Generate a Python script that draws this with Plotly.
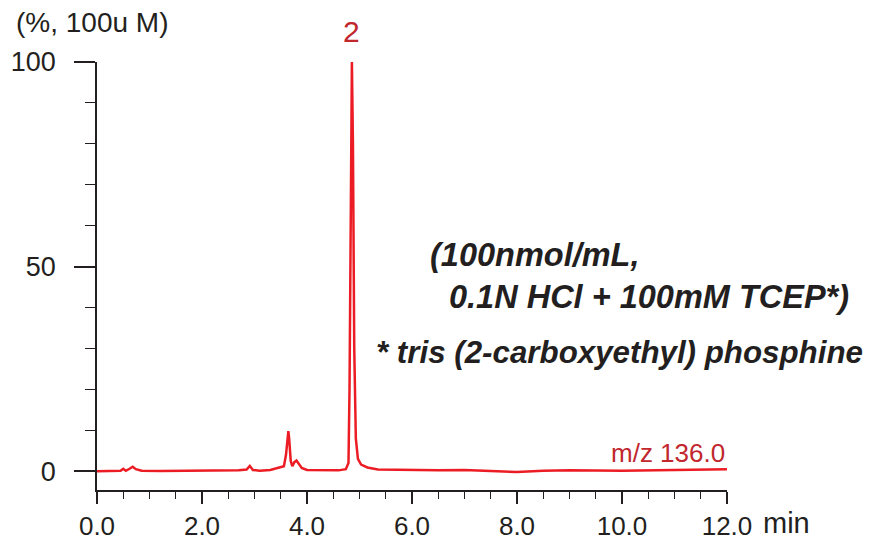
import plotly.graph_objects as go

# Retention time (min) and relative intensity (%)
time_min = [0.0, 0.3, 0.45, 0.5, 0.55, 0.62, 0.68, 0.74, 0.85, 1.2, 1.6, 2.0, 2.4, 2.7,
            2.85, 2.91, 2.97, 3.1, 3.3, 3.45, 3.56, 3.6, 3.63, 3.645, 3.66, 3.69, 3.72,
            3.76, 3.8, 3.84, 3.9, 4.0, 4.3, 4.6, 4.74, 4.79, 4.81, 4.835, 4.855, 4.875,
            4.9, 4.93, 4.97, 5.03, 5.15, 5.35, 5.8, 6.5, 7.0, 7.5, 8.0, 8.5, 9.0, 10.0,
            11.0, 12.0]
intensity = [0.0, 0.05, 0.1, 0.6, 0.1, 0.6, 1.1, 0.5, 0.1, 0.05, 0.1, 0.0, 0.1, 0.2,
             0.4, 1.3, 0.3, 0.1, 0.3, 0.8, 1.2, 4.0, 9.0, 9.8, 8.0, 2.5, 1.2,
             2.2, 2.6, 1.8, 0.8, 0.3, 0.2, 0.2, 0.5, 2.0, 20.0, 80.0, 100.0, 80.0,
             30.0, 8.0, 3.0, 1.6, 0.9, 0.4, 0.3, 0.2, 0.3, 0.1, -0.2, 0.1, 0.2, 0.1,
             0.3, 0.5]

x_ticks = [0, 2, 4, 6, 8, 10, 12]
x_tick_labels = ["0.0", "2.0", "4.0", "6.0", "8.0", "10.0", "12.0"]
y_ticks = [0, 50, 100]
y_tick_labels = ["0", "50", "100"]

peak_label = "2"
peak_time = 4.855
trace_label = "m/z 136.0"
y_unit = "(%, 100u M)"
x_unit = "min"
note_lines = ["(100nmol/mL,", "0.1N HCl + 100mM TCEP*)", "* tris (2-carboxyethyl) phosphine"]

RED = "#ec1c24"
DARKRED = "#c1272d"
INK = "#231f20"
FONT = "Liberation Sans, Arial, sans-serif"

fig = go.Figure()
fig.add_trace(go.Scatter(x=time_min, y=intensity, mode="lines",
                         line=dict(color=RED, width=2.5), cliponaxis=False,
                         hoverinfo="skip", showlegend=False))

# page body has an 8px default margin, so the figure is sized to fit the window
fig.update_layout(
    width=872, height=532,
    margin=dict(l=89, r=153, t=54, b=50, autoexpand=False),
    paper_bgcolor="white", plot_bgcolor="white",
    font=dict(family=FONT, color=INK, size=26),
    xaxis=dict(range=[0, 12], showgrid=False, zeroline=False, showline=True,
               automargin=False,
               linecolor=INK, linewidth=1.5, ticks="outside", ticklen=12,
               tickwidth=1.5, tickcolor=INK, tickvals=x_ticks, ticktext=x_tick_labels,
               ticklabelstandoff=0, tickfont=dict(size=26),
               minor=dict(dtick=0.5, ticks="outside", ticklen=7, tickwidth=1.2,
                          tickcolor=INK, showgrid=False)),
    yaxis=dict(range=[-4.6, 100], showgrid=False, zeroline=False, showline=True,
               automargin=False,
               linecolor=INK, linewidth=1.5, ticks="outside", ticklen=21,
               tickwidth=1.5, tickcolor=INK, tickvals=y_ticks, ticktext=y_tick_labels,
               ticklabelstandoff=13, tickfont=dict(size=27),
               minor=dict(dtick=10, ticks="outside", ticklen=10, tickwidth=1.2,
                          tickcolor=INK, showgrid=False)),
)

fig.add_annotation(x=peak_time, y=100, xref="x", yref="y", text=peak_label,
                   showarrow=False, yanchor="bottom", yshift=12,
                   font=dict(size=30, color=DARKRED, family=FONT))
fig.add_annotation(x=12, y=4.4, xref="x", yref="y", text=trace_label,
                   showarrow=False, xanchor="right", yanchor="middle",
                   font=dict(size=26, color=DARKRED, family=FONT))
fig.add_annotation(x=-0.132, y=1.093, xref="paper", yref="paper", text=y_unit,
                   showarrow=False, xanchor="left", yanchor="middle",
                   font=dict(size=28, color=INK, family=FONT))
fig.add_annotation(x=1.054, y=-0.077, xref="paper", yref="paper", text=x_unit,
                   showarrow=False, xanchor="left", yanchor="middle",
                   font=dict(size=29, color=INK, family=FONT))

note_pos = [(6.31, 52.8, 32.5), (6.66, 42.5, 32.5), (5.28, 29.1, 31.3)]
for (nx, ny, fs), line in zip(note_pos, note_lines):
    fig.add_annotation(x=nx, y=ny, xref="x", yref="y",
                       text="<b><i>" + line + "</i></b>", showarrow=False,
                       xanchor="left", yanchor="middle",
                       font=dict(size=fs, color=INK, family=FONT))

fig.write_html("out.html")
